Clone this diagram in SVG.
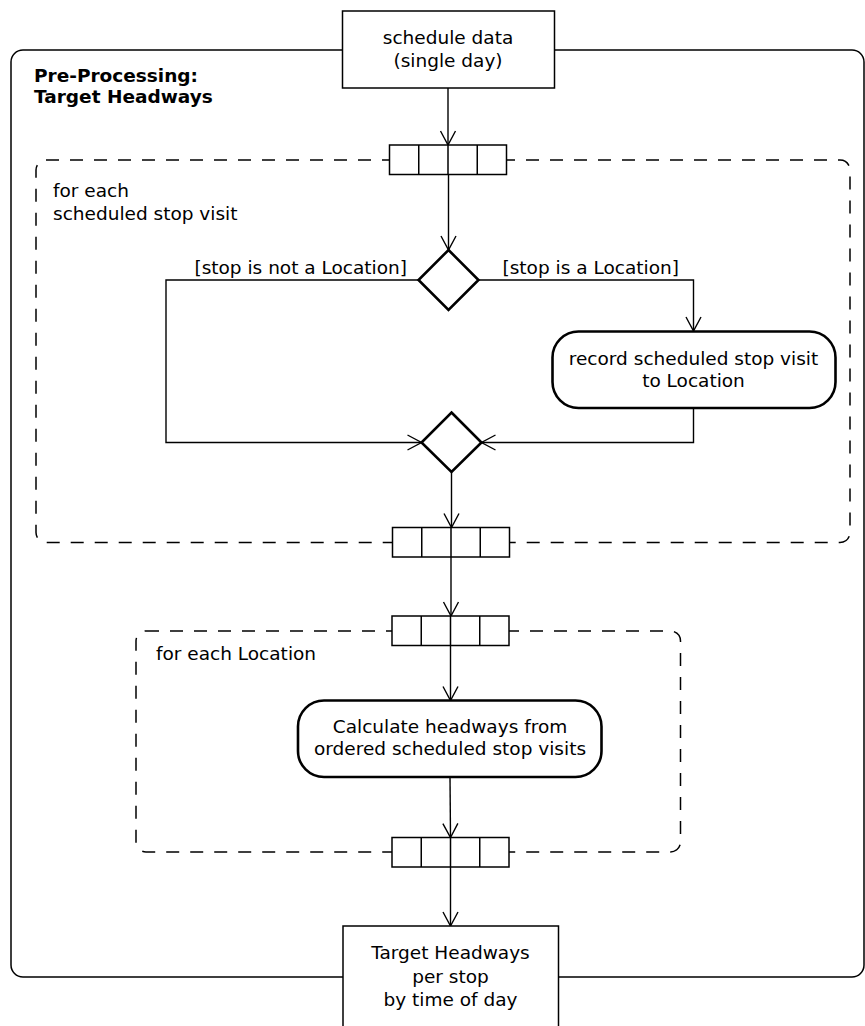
<svg xmlns="http://www.w3.org/2000/svg" xmlns:xlink="http://www.w3.org/1999/xlink" width="865" height="1026" viewBox="0 0 865 1026">
<style>
text{font-family:"DejaVu Sans","Liberation Sans",sans-serif;font-size:18.5px;fill:#000}
.b{font-weight:bold}
.c{text-anchor:middle}
.e{text-anchor:end}
.frame{fill:none;stroke:#000;stroke-width:1.5}
.region{fill:none;stroke:#000;stroke-width:1.5;stroke-dasharray:13 11}
.obj{fill:#fff;stroke:#000;stroke-width:1.5}
.act{fill:#fff;stroke:#000;stroke-width:2.6}
.dia{fill:#fff;stroke:#000;stroke-width:2.6}
.conn path{fill:none;stroke:#000;stroke-width:1.4;marker-end:url(#arr)}
</style>
<defs>
<marker id="arr" markerUnits="userSpaceOnUse" viewBox="-16 -10 18 20" refX="0" refY="0" markerWidth="18" markerHeight="20" orient="auto" overflow="visible">
<path d="M-14,-7.5 L0,0 L-14,7.5" fill="none" stroke="#000" stroke-width="1.4"/>
</marker>
<g id="pinShape">
<rect x="0" y="0" width="117" height="29.5" fill="#fff" stroke="#000" stroke-width="1.5"/>
<path d="M29.25,0V29.5M58.5,0V29.5M87.75,0V29.5" stroke="#000" stroke-width="1.5" fill="none"/>
</g>
</defs>
<rect width="865" height="1026" fill="#fff"/>

<g id="frame">
<rect class="frame" x="11" y="50" width="853" height="927" rx="12"/>
<text class="b" x="34" y="82">Pre-Processing:</text>
<text class="b" x="34" y="103">Target Headways</text>
</g>

<g id="region1">
<rect class="region" x="36" y="160" width="814" height="382.5" rx="10"/>
<text x="53" y="197">for each</text>
<text x="53" y="220">scheduled stop visit</text>
</g>

<g id="region2">
<rect class="region" x="136" y="631" width="544.5" height="221" rx="10"/>
<text x="156" y="659.5">for each Location</text>
</g>

<g class="conn" id="connectors">
<path d="M448,88V145"/>
<path d="M448.5,174.5V250"/>
<path d="M418.5,280H166V442.5H421.5"/>
<path d="M478.5,280H693.5V331"/>
<path d="M693.5,408V442.5H481.5"/>
<path d="M451.5,472V527.5"/>
<path d="M451,557V616"/>
<path d="M450.5,645.5V700.5"/>
<path d="M450,777L450.5,837.5"/>
<path d="M450.5,867V926"/>
<text x="407" y="273.5" class="e">[stop is not a Location]</text>
<text x="502.5" y="273.5">[stop is a Location]</text>
</g>

<g id="scheduleData">
<rect class="obj" x="342.5" y="11" width="212" height="77"/>
<text class="c" x="448" y="43.5">schedule data</text>
<text class="c" x="448" y="66.5">(single day)</text>
</g>

<g id="pin1"><use xlink:href="#pinShape" x="389.5" y="145"/></g>

<g id="decision">
<polygon class="dia" points="448.5,250 478.5,280 448.5,310 418.5,280"/>
</g>

<g id="recordVisit">
<rect class="act" x="552.5" y="331.5" width="283" height="76.5" rx="26"/>
<text class="c" x="693.5" y="365">record scheduled stop visit</text>
<text class="c" x="693.5" y="387">to Location</text>
</g>

<g id="merge">
<polygon class="dia" points="451.5,412.5 481.5,442.5 451.5,472 421.5,442.5"/>
</g>

<g id="pin2"><use xlink:href="#pinShape" x="392.5" y="527.5"/></g>
<g id="pin3"><use xlink:href="#pinShape" x="392" y="616"/></g>

<g id="calcHeadways">
<rect class="act" x="298" y="700.5" width="303.5" height="76.5" rx="26"/>
<text class="c" x="450" y="733">Calculate headways from</text>
<text class="c" x="450" y="755">ordered scheduled stop visits</text>
</g>

<g id="pin4"><use xlink:href="#pinShape" x="392" y="837.5"/></g>

<g id="targetHeadways">
<rect class="obj" x="343" y="926" width="215.5" height="110"/>
<text class="c" x="450.5" y="959">Target Headways</text>
<text class="c" x="450.5" y="982.5">per stop</text>
<text class="c" x="450.5" y="1006">by time of day</text>
</g>
</svg>
